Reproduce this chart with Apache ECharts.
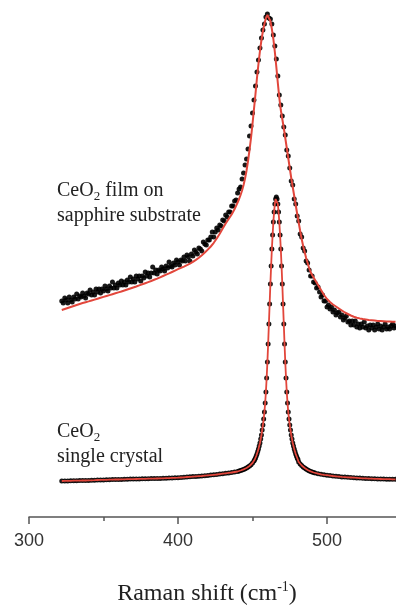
<!DOCTYPE html>
<html>
<head>
<meta charset="utf-8">
<script src="https://cdn.jsdelivr.net/npm/echarts@6/dist/echarts.min.js"></script>
<style>
  html, body { margin: 0; padding: 0; background: #ffffff; }
  #chart { width: 396px; height: 606px; }
</style>
</head>
<body>
<div id="chart"></div>
<script>
// Raman shift axis ticks (cm^-1)
const xMajorTicks = [300, 400, 500];
const xMinorTicks = [350, 450];

// CeO2 film on sapphire: measured intensity (a.u., offset), one point per cm^-1 from 322
const filmStart = 322;
const filmStep = 1;
const filmIntensity = [
  216, 214, 219, 217, 214, 220, 217, 215, 220, 218,
  223, 218, 221, 220, 224, 221, 219, 224, 223, 227,
  222, 225, 222, 228, 225, 228, 224, 228, 226, 231,
  228, 226, 231, 229, 235, 229, 232, 229, 234, 232,
  236, 232, 235, 232, 237, 235, 240, 235, 238, 235,
  241, 238, 241, 236, 241, 239, 245, 241, 244, 240,
  244, 250, 244, 247, 243, 247, 246, 250, 248, 246,
  251, 249, 255, 251, 250, 254, 252, 257, 255, 252,
  257, 256, 260, 256, 262, 260, 256, 263, 261, 267,
  265, 263, 269, 268, 266, 275, 273, 272, 277, 277,
  280, 285, 280, 285, 289, 287, 292, 291, 297, 296,
  302, 300, 305, 305, 311, 311, 316, 317, 324, 328,
  330, 338, 344, 352, 358, 368, 381, 391, 404, 417,
  431, 445, 457, 469, 479, 487, 493, 500, 503, 499,
  498, 493, 482, 471, 458, 441, 422, 412, 401, 390,
  382, 367, 361, 349, 336, 332, 318, 313, 301, 296,
  283, 280, 269, 266, 256, 254, 247, 241, 241, 235,
  234, 229, 230, 225, 220, 222, 216, 216, 210, 212,
  208, 210, 205, 207, 202, 204, 205, 200, 202, 197,
  199, 201, 195, 196, 192, 196, 192, 196, 190, 193,
  189, 193, 190, 195, 189, 191, 187, 192, 189, 192,
  187, 190, 193, 188, 191, 187, 190, 193, 188, 190,
  188, 191, 193, 189, 191
];

// Fitted profile of the film spectrum [shift, intensity]
const filmFit = [
  [322, 207], [324, 208], [326, 209], [328, 210], [330, 211], [332, 212], [334, 213], [336, 214],
  [338, 214.8], [340, 215.6], [342, 216.5], [344, 217.4], [346, 218.3], [348, 219.2], [350, 220.1],
  [352, 221], [354, 221.9], [356, 222.8], [358, 223.7], [360, 224.6], [362, 225.5], [364, 226.5],
  [366, 227.5], [368, 228.5], [370, 229.5], [372, 230.5], [374, 231.6], [376, 232.7], [378, 233.8],
  [380, 234.9], [382, 236], [384, 237.2], [386, 238.4], [388, 239.7], [390, 241], [392, 242.3],
  [394, 243.6], [396, 245], [398, 246.4], [400, 247.8], [402, 249.1], [404, 250.4], [406, 251.8],
  [408, 253.3], [410, 255.1], [412, 257.1], [414, 259.3], [416, 261.8], [418, 264.5], [420, 267.4],
  [422, 270.5], [424, 274.2], [426, 278.5], [428, 283.3], [430, 288.5], [432, 293.5], [434, 298],
  [436, 302.5], [437, 305.2], [438, 308], [439, 311.2], [440, 314.5], [441, 318], [442, 322],
  [443, 326.5], [444, 332], [445, 338.5], [446, 346.5], [447, 356], [448, 367], [449, 379],
  [450, 393], [451, 408], [452, 423], [453, 439], [454, 453], [455, 466], [456, 477], [457, 486],
  [458, 493], [459, 499], [460, 502], [461, 500.5], [462, 496], [463, 488], [464, 478], [465, 465],
  [466, 450], [467, 434], [468, 419], [469, 407], [470, 398], [471, 389], [472, 379], [473, 369],
  [474, 359], [475, 349], [476, 339], [477, 330], [478, 321], [479, 312], [480, 303], [481, 294.5],
  [482, 286], [483, 278], [484, 271], [485, 265], [486, 259], [487, 254], [488, 249], [489, 245],
  [490, 242], [492, 237], [494, 232], [496, 227], [498, 222], [500, 218], [502, 215], [504, 212.5],
  [506, 210.5], [508, 208.5], [510, 206.5], [512, 204.5], [514, 203], [516, 201.5], [518, 200.3],
  [520, 199.3], [522, 198.6], [524, 198], [526, 197.5], [528, 197], [530, 196.7], [532, 196.4],
  [534, 196.1], [536, 195.9], [538, 195.7], [540, 195.5], [542, 195.4], [544, 195.3], [546, 195.2]
];

// CeO2 single crystal [shift, intensity]
const crystalPoints = [
  [322, 36.0], [324, 36.1], [326, 36.1], [328, 36.2], [330, 36.3], [332, 36.3], [334, 36.4],
  [336, 36.5], [338, 36.5], [340, 36.6], [342, 36.7], [344, 36.8], [346, 37.0], [348, 37.1],
  [350, 37.1], [352, 37.2], [354, 37.3], [356, 37.4], [358, 37.5], [360, 37.5], [362, 37.6],
  [364, 37.7], [366, 37.8], [368, 37.9], [370, 37.9], [372, 38.0], [374, 38.1], [376, 38.2],
  [378, 38.2], [380, 38.3], [382, 38.4], [384, 38.4], [386, 38.5], [388, 38.6], [390, 38.7],
  [392, 38.8], [394, 38.9], [396, 39.1], [398, 39.2], [400, 39.3], [402, 39.5], [404, 39.7],
  [406, 40.0], [408, 40.2], [410, 40.4], [412, 40.6], [414, 40.8], [416, 41.0], [418, 41.3],
  [420, 41.6], [422, 41.9], [424, 42.2], [426, 42.5], [428, 42.9], [430, 43.3], [432, 43.7],
  [434, 44.1], [436, 44.5], [438, 45.0], [440, 45.5],
  [441, 46.0], [442, 46.5], [443, 47.0], [444, 47.6], [445, 48.3], [446, 49.0], [447, 50.0],
  [448, 51.0], [449, 52.3], [450, 54.0], [451, 56.0],
  [451.5, 57.5], [452, 59], [452.5, 61], [453, 63], [453.5, 65.5], [454, 68], [454.5, 71],
  [455, 74], [455.5, 78], [456, 82], [456.5, 87], [457, 92], [457.5, 98], [458, 105],
  [458.5, 114], [459, 125], [459.5, 139], [460, 155], [460.5, 173], [461, 193], [461.5, 213],
  [462, 233], [462.5, 251], [463, 268], [463.5, 282], [464, 295], [464.5, 305], [465, 313],
  [465.5, 318], [466, 320], [466.5, 318], [467, 313], [467.5, 305], [468, 295], [468.5, 282],
  [469, 268], [469.5, 251], [470, 233], [470.5, 213], [471, 193], [471.5, 173], [472, 155],
  [472.5, 139], [473, 125], [473.5, 114], [474, 105], [474.5, 98], [475, 92], [475.5, 87],
  [476, 82], [476.5, 78], [477, 74], [477.5, 71], [478, 68], [478.5, 65.5], [479, 63],
  [479.5, 61], [480, 59], [480.5, 57.5],
  [481, 55], [482, 53], [483, 51.5], [484, 50], [485, 49], [486, 48], [487, 47], [488, 46.3],
  [489, 45.6], [490, 45], [491, 44.5],
  [492, 44.0], [494, 43.3], [496, 42.7], [498, 42.2], [500, 41.8], [502, 41.4], [504, 41.0],
  [506, 40.7], [508, 40.4], [510, 40.1], [512, 39.9], [514, 39.7], [516, 39.5], [518, 39.3],
  [520, 39.1], [522, 38.9], [524, 38.7], [526, 38.6], [528, 38.4], [530, 38.3], [532, 38.2],
  [534, 38.1], [536, 38.0], [538, 37.9], [540, 37.8], [542, 37.8], [544, 37.7], [546, 37.7]
];

const filmPoints = filmIntensity.map((v, i) => [filmStart + i * filmStep, v]);

const DOT = '#000000';
const FIT = '#e2463b';
const SERIF = '"Liberation Serif", "Times New Roman", serif';
const SANS = '"Liberation Sans", Arial, sans-serif';

const chart = echarts.init(document.getElementById('chart'), null, { renderer: 'canvas' });

chart.setOption({
  animation: false,
  backgroundColor: '#ffffff',
  grid: { left: 29, top: -3, width: 372.5, height: 520, outerBoundsMode: 'none', containLabel: false },
  xAxis: [
    {
      type: 'value', min: 300, max: 550, position: 'bottom',
      splitLine: { show: false },
      axisLine: { show: true, lineStyle: { color: '#555555', width: 1.5 } },
      axisTick: { show: true, customValues: xMajorTicks, length: 7, lineStyle: { color: '#555555', width: 1.5 } },
      axisLabel: {
        show: true, customValues: xMajorTicks, margin: 15,
        fontFamily: SANS, fontSize: 18, color: '#333333'
      }
    },
    {
      type: 'value', min: 300, max: 550, position: 'bottom',
      splitLine: { show: false },
      axisLine: { show: false },
      axisTick: { show: true, customValues: xMinorTicks, length: 4, lineStyle: { color: '#555555', width: 1.5 } },
      axisLabel: { show: false }
    }
  ],
  yAxis: { type: 'value', min: 0, max: 520, show: false },
  series: [
    {
      name: 'film data', type: 'scatter', data: filmPoints, xAxisIndex: 0,
      symbol: 'circle', symbolSize: 5, clip: false,
      itemStyle: { color: DOT, opacity: 0.9 }, z: 2
    },
    {
      name: 'film fit', type: 'line', data: filmFit, xAxisIndex: 0,
      symbol: 'none', showSymbol: false, clip: false,
      lineStyle: { color: FIT, width: 2 }, z: 3
    },
    {
      name: 'crystal data', type: 'scatter', data: crystalPoints, xAxisIndex: 0,
      symbol: 'circle', symbolSize: 5, clip: false,
      itemStyle: { color: DOT, opacity: 0.9 }, z: 2
    },
    {
      name: 'crystal fit', type: 'line', data: crystalPoints, xAxisIndex: 0,
      symbol: 'none', showSymbol: false, clip: false,
      lineStyle: { color: FIT, width: 1.8 }, z: 3
    }
  ],
  graphic: [
    {
      type: 'text', x: 57, y: 191,
      style: {
        text: 'CeO{sub|2} film on', fontFamily: SERIF, fontSize: 20, lineHeight: 24,
        fill: '#222222', verticalAlign: 'middle',
        rich: { sub: { fontFamily: SERIF, fontSize: 13, lineHeight: 8, verticalAlign: 'bottom', fill: '#222222' } }
      }
    },
    {
      type: 'text', x: 57, y: 216,
      style: { text: 'sapphire substrate', fontFamily: SERIF, fontSize: 20, fill: '#222222', verticalAlign: 'middle' }
    },
    {
      type: 'text', x: 57, y: 432,
      style: {
        text: 'CeO{sub|2}', fontFamily: SERIF, fontSize: 20, lineHeight: 24,
        fill: '#222222', verticalAlign: 'middle',
        rich: { sub: { fontFamily: SERIF, fontSize: 13, lineHeight: 8, verticalAlign: 'bottom', fill: '#222222' } }
      }
    },
    {
      type: 'text', x: 57, y: 457,
      style: { text: 'single crystal', fontFamily: SERIF, fontSize: 20, fill: '#222222', verticalAlign: 'middle' }
    },
    {
      type: 'text', x: 207, y: 594,
      style: {
        text: 'Raman shift (cm{sup|-1})', fontFamily: SERIF, fontSize: 24, lineHeight: 28,
        fill: '#222222', align: 'center', verticalAlign: 'middle',
        rich: { sup: { fontFamily: SERIF, fontSize: 14, lineHeight: 15, verticalAlign: 'top', fill: '#222222' } }
      }
    }
  ]
});
</script>
</body>
</html>
